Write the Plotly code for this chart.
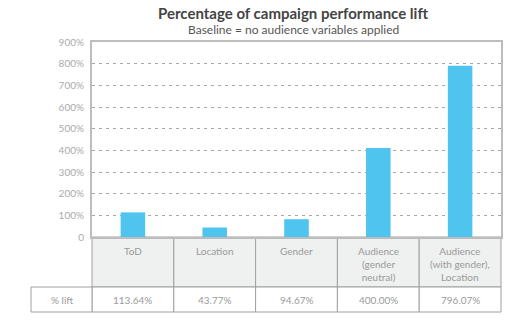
import plotly.graph_objects as go

categories = ["ToD", "Location", "Gender", "Audience<br>(gender<br>neutral)", "Audience<br>(with gender),<br>Location"]
bar_values = [113.64, 43.77, 82, 411, 790]
lift_labels = ["113.64%", "43.77%", "94.67%", "400.00%", "796.07%"]
tick_vals = [0, 100, 200, 300, 400, 500, 600, 700, 800, 900]
tick_text = ["0", "100%", "200%", "300%", "400%", "500%", "600%", "700%", "800%", "900%"]

W, H = 527, 325
L, R, T, B = 92, 26, 42, 88
plot_h = H - T - B
plot_w = W - L - R

def py(px_below):  # pixels below plot bottom -> paper y
    return -px_below / plot_h

def px(pix_left):  # pixels left of plot -> paper x
    return -pix_left / plot_w

FONT = "Lato, Open Sans, sans-serif"
n = len(categories)
x_idx = list(range(n))

fig = go.Figure()
fig.add_trace(go.Bar(x=x_idx, y=bar_values, marker_color="#4FC4EE", width=0.3,
                     marker_line_width=0, hoverinfo="skip"))

shapes = []
line_col = "#A0A0A0"
for i in range(n):
    shapes.append(dict(type="rect", xref="paper", yref="paper",
                       x0=i / n, x1=(i + 1) / n, y0=py(50), y1=0,
                       fillcolor="#EFF0F0", line=dict(color=line_col, width=1), layer="below"))
    shapes.append(dict(type="rect", xref="paper", yref="paper",
                       x0=i / n, x1=(i + 1) / n, y0=py(75), y1=py(50),
                       fillcolor="white", line=dict(color=line_col, width=1), layer="below"))
shapes.append(dict(type="rect", xref="paper", yref="paper",
                   x0=px(61), x1=0, y0=py(75), y1=py(50),
                   fillcolor="white", line=dict(color=line_col, width=1), layer="below"))

cell_font = dict(family=FONT, size=10, color="#9A9A9A")
annotations = []
for i, c in enumerate(categories):
    annotations.append(dict(xref="paper", yref="paper", x=(i + 0.5) / n, y=py(6),
                            text=c, showarrow=False, xanchor="center", yanchor="top",
                            font=cell_font))
    annotations.append(dict(xref="paper", yref="paper", x=(i + 0.5) / n, y=py(62.5),
                            text=lift_labels[i], showarrow=False, xanchor="center", yanchor="middle",
                            font=cell_font))
annotations.append(dict(xref="paper", yref="paper", x=px(30.5), y=py(62.5),
                        text="% lift", showarrow=False, xanchor="center", yanchor="middle",
                        font=cell_font))
annotations.append(dict(xref="paper", yref="paper", x=(293 - L) / plot_w, y=1 + (T - 13) / plot_h,
                        text="<b>Percentage of campaign performance lift</b>", showarrow=False,
                        xanchor="center", yanchor="middle",
                        font=dict(family=FONT, size=15, color="#444444")))
annotations.append(dict(xref="paper", yref="paper", x=(293 - L) / plot_w, y=1 + (T - 29.5) / plot_h,
                        text="Baseline = no audience variables applied", showarrow=False,
                        xanchor="center", yanchor="middle",
                        font=dict(family=FONT, size=12, color="#555555")))

fig.update_layout(
    width=W, height=H,
    margin=dict(l=L, r=R, t=T, b=B),
    paper_bgcolor="white", plot_bgcolor="white",
    showlegend=False,
    shapes=shapes, annotations=annotations,
    xaxis=dict(range=[-0.5, n - 0.5], showticklabels=False, showgrid=False, zeroline=False,
               showline=True, mirror=True, linecolor="#BDBDBD", linewidth=2, ticks=""),
    yaxis=dict(range=[0, 900], tickvals=tick_vals, ticktext=tick_text, showgrid=True,
               gridcolor="#A8A8A8", griddash="3px,4px", gridwidth=1, zeroline=False,
               showline=True, mirror=True, linecolor="#BDBDBD", linewidth=2,
               ticks="outside", ticklen=4, tickcolor="rgba(0,0,0,0)",
               tickfont=dict(family=FONT, size=10, color="#AAAAAA")),
)

fig.write_html("out.html")
